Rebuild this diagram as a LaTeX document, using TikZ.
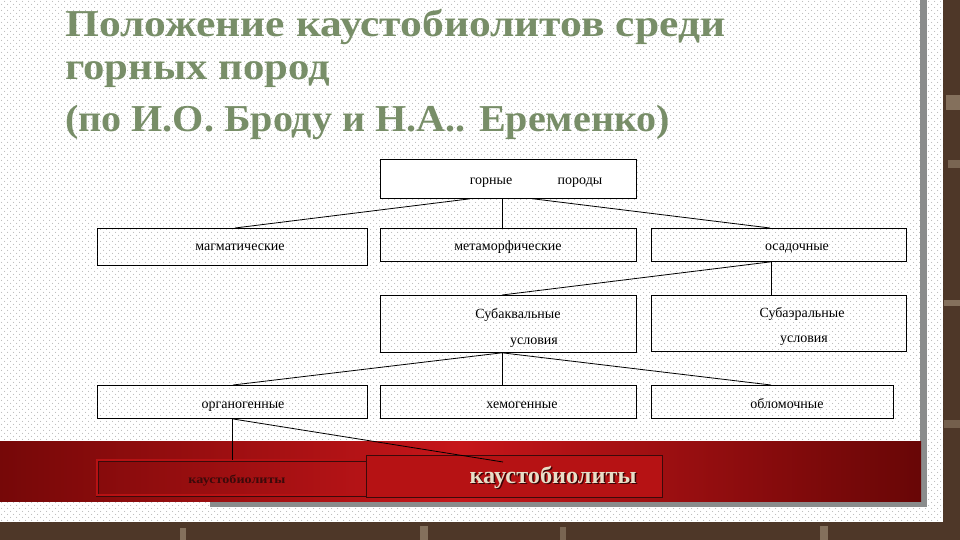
\documentclass[tikz,border=0pt]{standalone}
\usepackage{fontspec}
\setmainfont{Liberation Serif}
\usepackage{graphicx}
\usetikzlibrary{calc,patterns}
\definecolor{titlegreen}{RGB}{120,142,104}
\definecolor{bandred}{RGB}{198,22,26}
\definecolor{banddark}{RGB}{118,8,8}
\definecolor{banddarkr}{RGB}{104,6,6}
\definecolor{bigred}{RGB}{182,18,20}
\definecolor{brownbg}{RGB}{78,55,40}
\definecolor{brownlt}{RGB}{132,112,92}
\definecolor{beige}{RGB}{232,222,200}
\definecolor{darktext}{RGB}{60,10,10}
\definecolor{shadowgray}{RGB}{138,140,140}
\pgfdeclarepatternformonly{sdots}{\pgfpoint{-1pt}{-1pt}}{\pgfpoint{7pt}{7pt}}{\pgfpoint{6pt}{6pt}}{%
  \pgfpathcircle{\pgfpoint{1.5pt}{1.5pt}}{0.5pt}%
  \pgfpathcircle{\pgfpoint{4.5pt}{4.5pt}}{0.5pt}%
  \pgfusepath{fill}}
\begin{document}
\begin{tikzpicture}[x=1pt,y=-1pt,
  box/.style={draw=black,line width=0.8pt,inner sep=0pt,anchor=north west},
  lbl/.style={font=\fontsize{14}{16}\selectfont,inner sep=0pt,anchor=base},
  conn/.style={line width=0.8pt,black},
  ttl/.style={font=\fontsize{38}{42}\selectfont\bfseries,text=titlegreen,inner sep=0pt,anchor=base west}]
\useasboundingbox (0,0) rectangle (960,540);
% background
\fill[brownbg] (0,0) rectangle (960,540);
\fill[brownlt] (946,95) rectangle (960,110);
\fill[brownlt!80!brownbg] (948,160) rectangle (960,168);
\fill[brownlt] (944,300) rectangle (960,306);
\fill[brownlt!70!brownbg] (944,420) rectangle (960,428);
\fill[brownlt] (180,528) rectangle (186,540);
\fill[brownlt] (420,526) rectangle (428,540);
\fill[brownlt!80!brownbg] (560,527) rectangle (566,540);
\fill[brownlt] (820,526) rectangle (828,540);
\fill[white] (0,0) rectangle (943,522);
\fill[pattern=sdots,pattern color=gray!60] (0,0) rectangle (943,522);
\fill[shadowgray] (920,0) rectangle (927,507);
\fill[shadowgray] (210,501) rectangle (927,507);
\shade[left color=banddark,right color=banddarkr,middle color=bandred] (0,441) rectangle (921,501);
% title
\node[ttl] (t1) at (65,37) {\resizebox{660pt}{\height}{Положение каустобиолитов среди}};
\node[ttl] (t2) at (65,80) {\resizebox{265pt}{\height}{горных пород}};
\node[ttl] (t3) at (65,132) {\resizebox{605pt}{\height}{(по И.О. Броду и Н.А.. Еременко)}};
% boxes
\node[box,fill=white,minimum width=256pt,minimum height=39pt] (gp) at (380,159) {};
\node[box,minimum width=270pt,minimum height=37pt] (mag) at (97,228) {};
\node[box,minimum width=256pt,minimum height=33pt] (met) at (380,228) {};
\node[box,minimum width=255pt,minimum height=33pt] (osa) at (651,228) {};
\node[box,minimum width=256pt,minimum height=57pt] (sba) at (380,295) {};
\node[box,minimum width=255pt,minimum height=56pt] (sbe) at (651,295) {};
\node[box,minimum width=270pt,minimum height=33pt] (org) at (97,385) {};
\node[box,minimum width=256pt,minimum height=33pt] (hem) at (380,385) {};
\node[box,minimum width=242pt,minimum height=33pt] (obl) at (651,385) {};
\node[box,draw=darktext,double=bigred,double distance=1.6pt,line width=0.5pt,minimum width=270pt,minimum height=35pt] (ksm) at (97,460) {};
\node[box,draw=darktext,fill=bigred,line width=0.8pt,minimum width=296pt,minimum height=42pt] (kbg) at (366,455) {};
% labels
\node[lbl] (l1a) at (491,185) {горные};
\node[lbl] (l1b) at (580,185) {породы};
\node[lbl] (lmag) at (240,250) {магматические};
\node[lbl] (lmet) at (508,250) {метаморфические};
\node[lbl] (losa) at (797,250) {осадочные};
\node[lbl] (lsba1) at (518,318) {Субаквальные};
\node[lbl] (lsba2) at (534,344) {условия};
\node[lbl] (lsbe1) at (802,317) {Субаэральные};
\node[lbl] (lsbe2) at (804,342) {условия};
\node[lbl] (lorg) at (243,408) {органогенные};
\node[lbl] (lhem) at (522,408) {хемогенные};
\node[lbl] (lobl) at (787,408) {обломочные};
\node[lbl,text=darktext,font=\fontsize{12}{14}\selectfont\bfseries] (lksm) at (237,483) {\resizebox{97pt}{\height}{каустобиолиты}};
\node[inner sep=0pt,text=black!70!bigred,font=\fontsize{24}{26}\selectfont\bfseries] (lkbgs) at (554.5,478.5) {\resizebox{167pt}{\height}{каустобиолиты}};
\node[inner sep=0pt,text=beige,font=\fontsize{24}{26}\selectfont\bfseries] (lkbg) at (553,477) {\resizebox{167pt}{\height}{каустобиолиты}};
% connectors
\draw[conn] ($(gp.south west)+(90,0)$) -- ($(mag.north west)+(138,0)$);
\draw[conn] ($(gp.south west)+(122,0)$) -- ($(met.north west)+(122,0)$);
\draw[conn] ($(gp.south west)+(153,0)$) -- ($(osa.north west)+(119,0)$);
\draw[conn] ($(osa.south west)+(120,0)$) -- ($(sba.north west)+(122,0)$);
\draw[conn] ($(osa.south west)+(120,0)$) -- ($(sbe.north west)+(120,0)$);
\draw[conn] ($(sba.south west)+(122,0)$) -- ($(org.north west)+(136,0)$);
\draw[conn] ($(sba.south west)+(122,0)$) -- ($(hem.north west)+(122,0)$);
\draw[conn] ($(sba.south west)+(122,0)$) -- ($(obl.north west)+(120,0)$);
\draw[conn] ($(org.south west)+(135,0)$) -- ($(ksm.north west)+(135,0)$);
\coordinate (kend) at ($(kbg.north west)+(137,7)$);
\draw[conn] ($(org.south west)+(135,0)$) -- (kend);
\end{tikzpicture}
\end{document}
